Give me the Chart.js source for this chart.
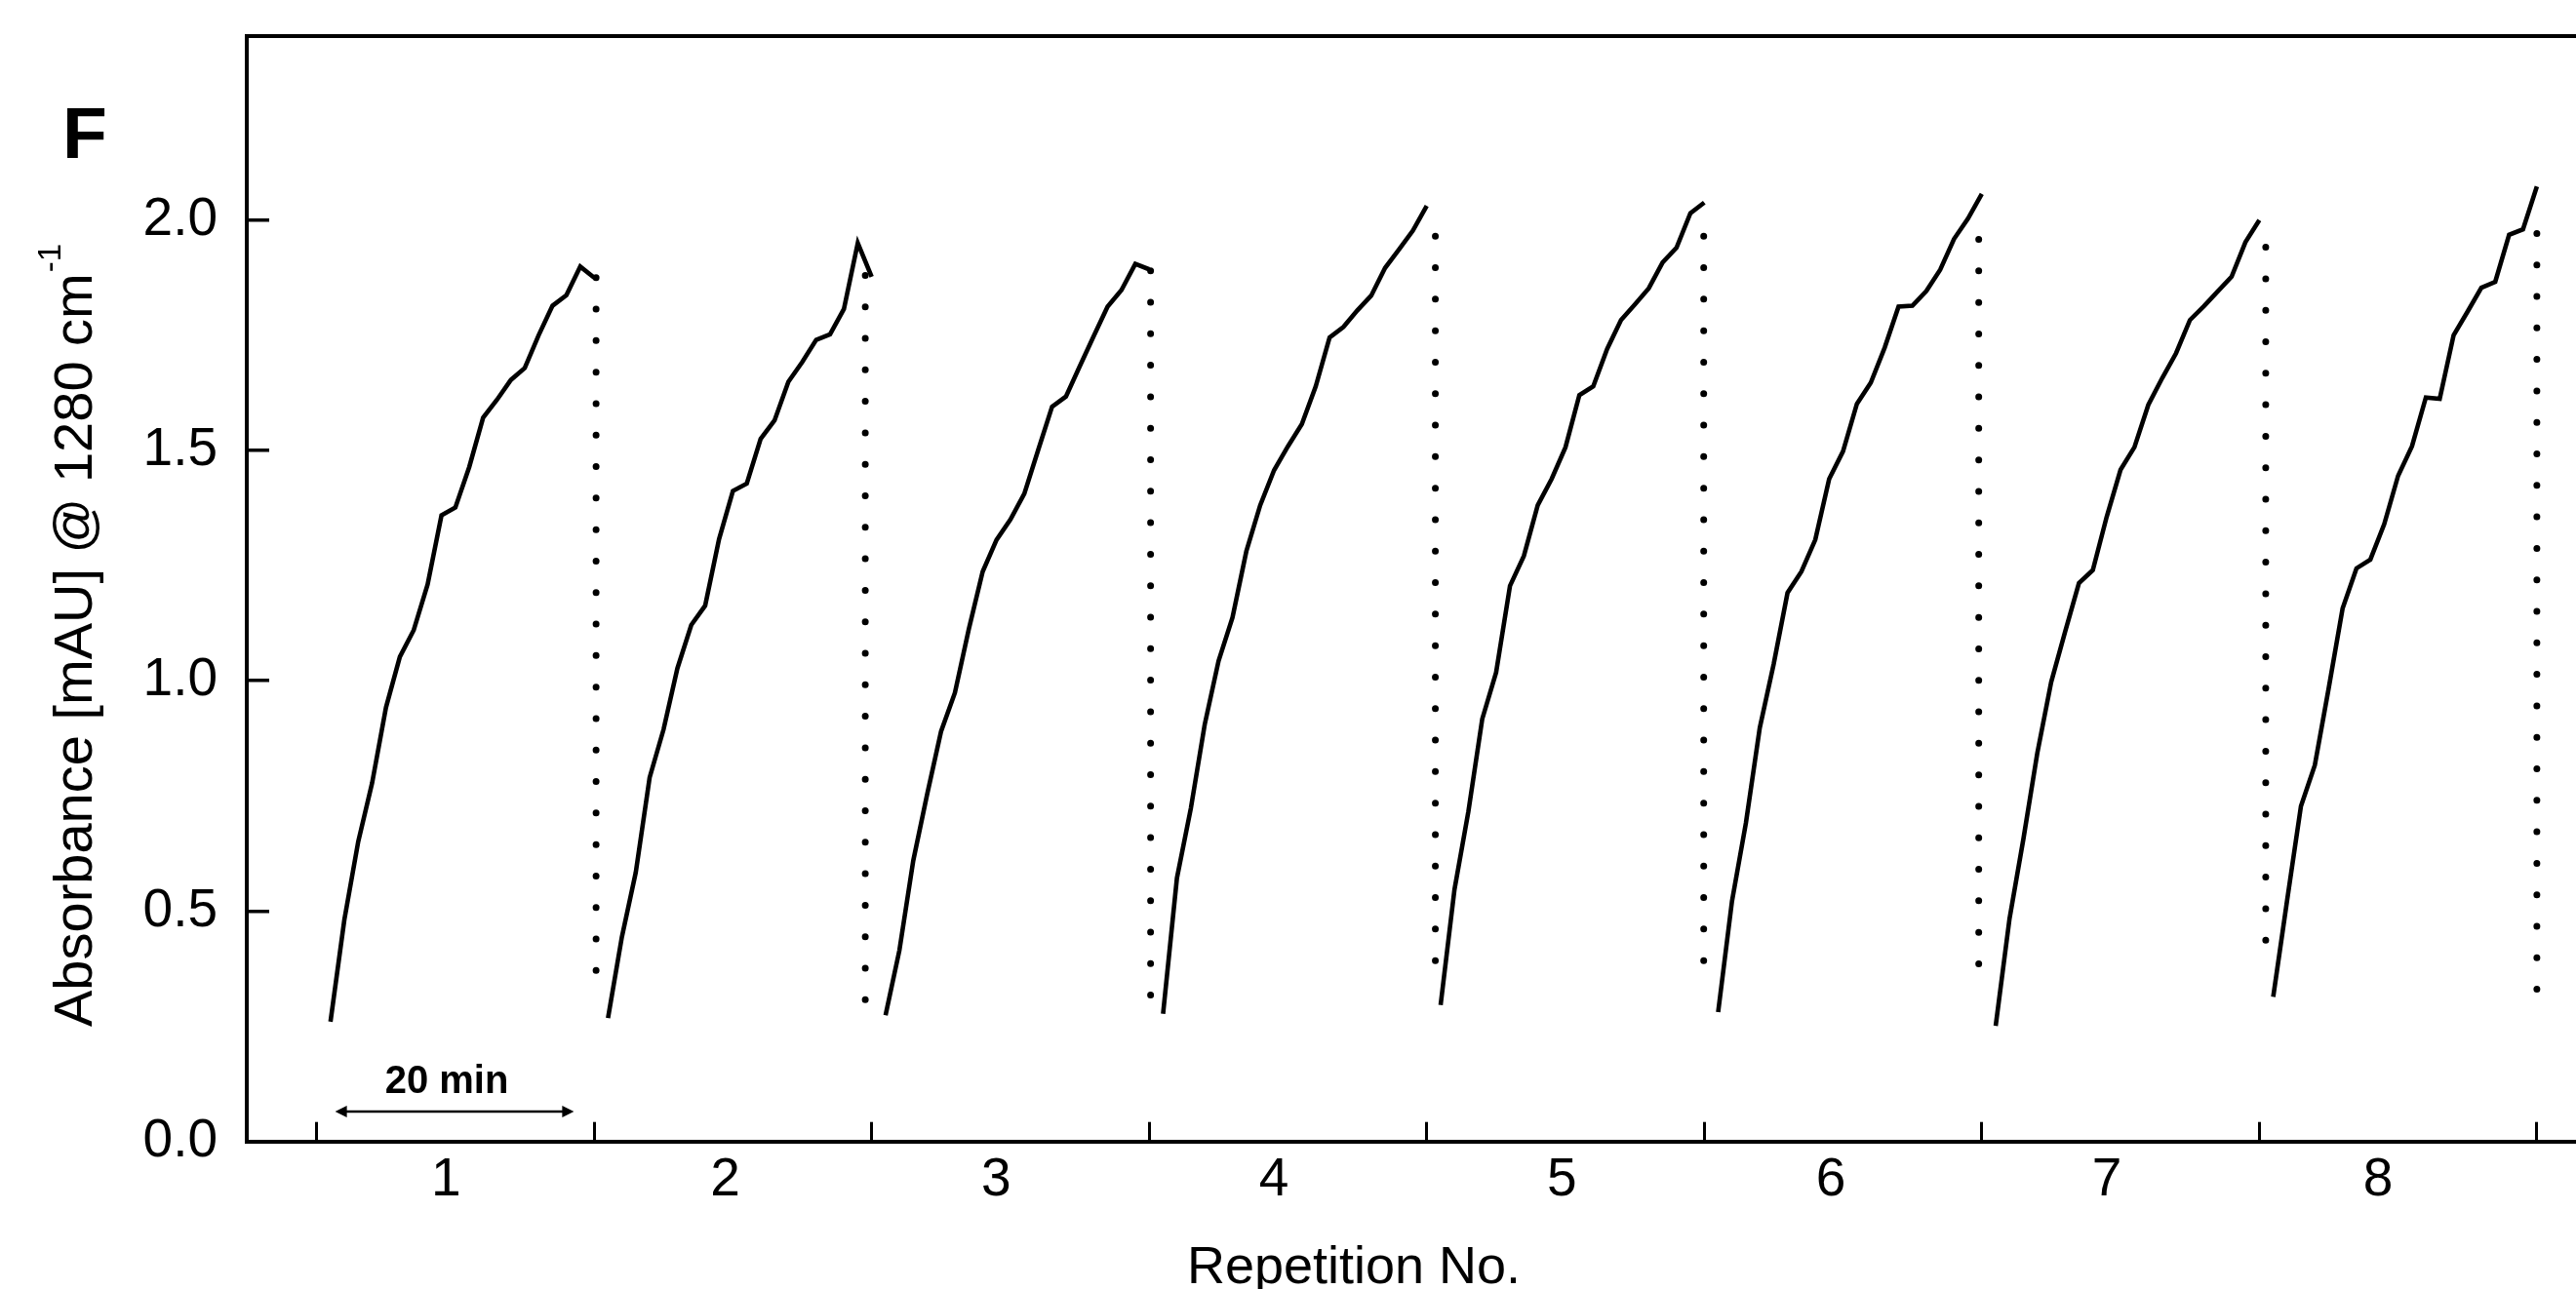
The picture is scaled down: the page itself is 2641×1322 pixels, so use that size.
<!DOCTYPE html>
<html>
<head>
<meta charset="utf-8">
<title>Absorbance per repetition</title>
<script src="https://cdn.jsdelivr.net/npm/chart.js@4.4.1/dist/chart.umd.min.js"></script>
<style>
  html, body { margin: 0; padding: 0; background: #fff; overflow: hidden; }
  #wrap { width: 2641px; height: 1322px; }
</style>
</head>
<body>
<div id="wrap"><canvas id="chart" width="2641" height="1322"></canvas></div>
<script>
// Axis data
const repetitionLabels = ['1', '2', '3', '4', '5', '6', '7', '8'];
const labelPositions = [0.966, 1.972, 2.949, 3.949, 4.987, 5.956, 6.951, 7.928];
const boundaryTicks = [0.5, 1.5, 2.5, 3.5, 4.5, 5.5, 6.5, 7.5, 8.5];
const yTickValues = [0, 0.5, 1.0, 1.5, 2.0];

// Sample times inside one repetition (relative to the repetition number)
const sampleOffsets = [-0.45, -0.40, -0.35, -0.30, -0.25, -0.20, -0.15, -0.10, -0.05, 0.00,
                        0.05, 0.10, 0.15, 0.20, 0.25, 0.30, 0.35, 0.40, 0.45, 0.50];

// Absorbance traces, one per repetition
const rep1 = [0.260, 0.481, 0.651, 0.778, 0.942, 1.052, 1.110, 1.209, 1.359, 1.376, 1.464, 1.571, 1.610, 1.653, 1.679, 1.750, 1.814, 1.837, 1.899, 1.875];
const rep2 = [0.268, 0.444, 0.584, 0.790, 0.894, 1.027, 1.121, 1.163, 1.307, 1.412, 1.428, 1.525, 1.565, 1.649, 1.692, 1.740, 1.752, 1.807, 1.950, 1.877];
const rep3 = [0.274, 0.415, 0.610, 0.754, 0.890, 0.974, 1.112, 1.237, 1.306, 1.350, 1.406, 1.501, 1.595, 1.617, 1.683, 1.748, 1.812, 1.848, 1.905, 1.893];
const rep4 = [0.277, 0.572, 0.723, 0.905, 1.043, 1.137, 1.281, 1.381, 1.457, 1.509, 1.557, 1.639, 1.745, 1.768, 1.804, 1.836, 1.896, 1.936, 1.977, 2.031];
const rep5 = [0.296, 0.547, 0.716, 0.917, 1.018, 1.206, 1.271, 1.381, 1.438, 1.507, 1.620, 1.639, 1.720, 1.783, 1.817, 1.852, 1.908, 1.940, 2.015, 2.038];
const rep6 = [0.281, 0.522, 0.691, 0.898, 1.036, 1.191, 1.237, 1.306, 1.438, 1.498, 1.601, 1.647, 1.723, 1.812, 1.814, 1.846, 1.892, 1.959, 2.003, 2.057];
const rep7 = [0.251, 0.484, 0.657, 0.843, 0.997, 1.106, 1.212, 1.240, 1.356, 1.458, 1.507, 1.599, 1.657, 1.711, 1.783, 1.813, 1.845, 1.877, 1.952, 2.000];
const rep8 = [0.314, 0.523, 0.728, 0.817, 0.984, 1.157, 1.244, 1.263, 1.340, 1.445, 1.509, 1.615, 1.612, 1.750, 1.801, 1.853, 1.866, 1.968, 1.980, 2.073];

// Dotted drops at the end of each repetition
const dropX = [1.507, 2.477, 3.505, 4.531, 5.498, 6.489, 7.523, 8.500];
const dropTop = [1.875, 1.880, 1.890, 1.965, 1.965, 1.958, 1.941, 1.971];
const dropBottom = [0.305, 0.307, 0.315, 0.390, 0.390, 0.384, 0.369, 0.328];

// "20 min" scale bar
const arrowStart = 0.567;
const arrowEnd = 1.427;
const arrowLevel = 0.065;

const FONT = '"Liberation Sans", Arial, Helvetica, sans-serif';
const X_MIN = 0.2484;
const X_MAX = 8.641;

const reps = [rep1, rep2, rep3, rep4, rep5, rep6, rep7, rep8];
const labelMap = new Map(labelPositions.map((p, i) => [p, repetitionLabels[i]]));

const solidSets = reps.map((vals, i) => ({
    data: vals.map((v, k) => ({ x: i + 1 + sampleOffsets[k], y: v })),
    borderColor: '#000',
    borderWidth: 4.6,
    pointRadius: 0,
    tension: 0,
    fill: false
}));

const dropSets = dropX.map((x, i) => ({
    data: [{ x: x, y: dropTop[i] }, { x: x, y: dropBottom[i] }],
    borderColor: '#000',
    borderWidth: 7,
    borderDash: [0, 32.3],
    borderCapStyle: 'round',
    pointRadius: 0,
    fill: false
}));

// Text and scale-bar drawn on top of the plot
const annotationPlugin = {
    id: 'annotations',
    afterDraw(chart) {
        const { ctx, scales: { x, y } } = chart;
        ctx.save();
        ctx.fillStyle = '#000';
        ctx.strokeStyle = '#000';

        // panel letter
        ctx.font = `bold 75px ${FONT}`;
        ctx.textAlign = 'left';
        ctx.textBaseline = 'alphabetic';
        ctx.fillText('F', 64, 162);

        // y axis title with superscript
        ctx.save();
        ctx.translate(94, 1053);
        ctx.rotate(-Math.PI / 2);
        ctx.font = `56px ${FONT}`;
        const main = 'Absorbance [mAU] @ 1280 cm';
        ctx.fillText(main, 0, 0);
        const w = ctx.measureText(main).width;
        ctx.font = `33px ${FONT}`;
        ctx.fillText('-1', w + 1, -32);
        ctx.restore();

        // x axis title
        ctx.font = `54px ${FONT}`;
        ctx.textAlign = 'center';
        ctx.fillText('Repetition No.', 1388, 1316);

        // 20 min scale bar
        const ax1 = x.getPixelForValue(arrowStart);
        const ax2 = x.getPixelForValue(arrowEnd);
        const ay = y.getPixelForValue(arrowLevel);
        ctx.lineWidth = 2.5;
        ctx.beginPath();
        ctx.moveTo(ax1 + 4, ay);
        ctx.lineTo(ax2 - 4, ay);
        ctx.stroke();
        ctx.beginPath();
        ctx.moveTo(ax1, ay);
        ctx.lineTo(ax1 + 12, ay - 6);
        ctx.lineTo(ax1 + 12, ay + 6);
        ctx.closePath();
        ctx.fill();
        ctx.beginPath();
        ctx.moveTo(ax2, ay);
        ctx.lineTo(ax2 - 12, ay - 6);
        ctx.lineTo(ax2 - 12, ay + 6);
        ctx.closePath();
        ctx.fill();

        ctx.font = `bold 40px ${FONT}`;
        ctx.textAlign = 'center';
        ctx.fillText('20 min', (ax1 + ax2) / 2 - 8, ay - 19);
        ctx.restore();
    }
};

new Chart(document.getElementById('chart'), {
    type: 'line',
    data: { datasets: [...solidSets, ...dropSets] },
    options: {
        responsive: false,
        devicePixelRatio: 1,
        animation: false,
        events: [],
        layout: { padding: 0 },
        plugins: {
            legend: { display: false },
            tooltip: { enabled: false }
        },
        scales: {
            x: {
                type: 'linear',
                position: 'bottom',
                min: X_MIN,
                max: X_MAX,
                afterBuildTicks: (s) => {
                    s.ticks = [...boundaryTicks, ...labelPositions]
                        .sort((a, b) => a - b)
                        .map(v => ({ value: v }));
                },
                afterFit: (s) => {
                    s.height = 151.3;
                    s.paddingLeft = 0;
                    s.paddingRight = 0;
                },
                ticks: {
                    autoSkip: false,
                    maxRotation: 0,
                    minRotation: 0,
                    padding: 27,
                    color: '#000',
                    font: { family: FONT, size: 55 },
                    callback: (v) => labelMap.get(v) ?? ''
                },
                grid: {
                    drawOnChartArea: false,
                    drawTicks: true,
                    tickLength: -20,
                    lineWidth: 3,
                    color: (c) => (c.tick && labelMap.has(c.tick.value)) ? 'rgba(0,0,0,0)' : '#000'
                },
                border: { display: true, color: '#000', width: 4 }
            },
            xTop: {
                type: 'linear',
                axis: 'x',
                position: 'top',
                display: true,
                min: X_MIN,
                max: X_MAX,
                afterFit: (s) => {
                    s.height = 36.7;
                    s.paddingLeft = 0;
                    s.paddingRight = 0;
                },
                ticks: { display: false },
                grid: { display: false, drawTicks: false },
                border: { display: true, color: '#000', width: 4 }
            },
            y: {
                type: 'linear',
                min: 0,
                max: 2.4,
                afterBuildTicks: (s) => {
                    s.ticks = yTickValues.map(v => ({ value: v }));
                },
                afterFit: (s) => {
                    s.width = 253;
                    s.paddingTop = 0;
                    s.paddingBottom = 0;
                },
                ticks: {
                    padding: 53,
                    color: '#000',
                    font: { family: FONT, size: 55 },
                    callback: (v) => Number(v).toFixed(1)
                },
                grid: {
                    drawOnChartArea: false,
                    drawTicks: true,
                    tickLength: -23,
                    lineWidth: 3.5,
                    color: '#000'
                },
                border: { display: true, color: '#000', width: 4 }
            }
        }
    },
    plugins: [annotationPlugin]
});
</script>
</body>
</html>
